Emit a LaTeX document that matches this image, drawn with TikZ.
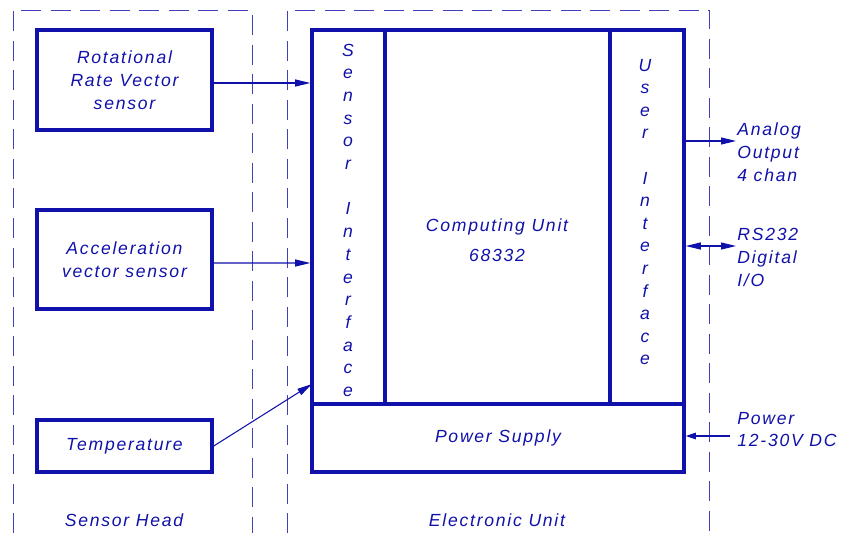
\documentclass[tikz,border=0pt]{standalone}
\usepackage{fontspec}
\setmainfont{Liberation Sans}[LetterSpace=10]
\usetikzlibrary{arrows.meta}
\definecolor{cadblue}{RGB}{16,16,170}
\tikzset{
  txt/.style={text=cadblue, font=\fontsize{10}{13}\selectfont\itshape, align=center, inner sep=0pt},
  box/.style={draw=cadblue, line width=2pt, inner sep=0pt, txt},
  group/.style={draw=cadblue!80, line width=0.45pt, dash pattern=on 4mm off 1.9mm},
  sig/.style={draw=cadblue, line width=0.6pt, -{Triangle[length=3mm,width=1.4mm]}},
  bisig/.style={sig, {Triangle[length=3mm,width=1.4mm]}-{Triangle[length=3mm,width=1.4mm]}},
  supply/.style={sig, -{Triangle[length=2mm,width=1.3mm]}},
}
\begin{document}
\begin{tikzpicture}[x=0.2mm,y=-0.2mm]
			\useasboundingbox (0,0) rectangle (849,533);
			% Sensor head and electronic unit
			\draw[group] (13,533) -- (13,10) -- (252,10) -- (252,533) ;
			\draw[group] (287,533) -- (287,10) -- (709,10) -- (709,533) ;
			\node[txt] (headlbl) at (124,520) {Sensor Head};
			\node[txt] (unitlbl) at (497,520) {Electronic Unit};
			% Sensors
			\node[box, minimum width=35mm, minimum height=20mm] (rot) at (124.5,80) {Rotational\\Rate Vector\\sensor};
			\node[box, minimum width=35mm, minimum height=19.8mm] (acc) at (124.5,259.5) {Acceleration\\vector sensor};
			\node[box, minimum width=35mm, minimum height=10.4mm] (temp) at (124.5,446) {Temperature};
			% Electronic unit blocks
			\node[box, minimum width=14.6mm, minimum height=74.8mm] (si) at (348.5,217) {};
			\node[box, minimum width=45mm, minimum height=74.8mm] (cu) at (497.5,217) {};
			\node[box, minimum width=14.8mm, minimum height=74.8mm] (ui) at (647,217) {};
			\node[box, minimum width=74.4mm, minimum height=13.6mm] (ps) at (498,438) {Power Supply};
			\node[txt] (culbl) at (497,240) {Computing Unit\\[1.5mm]68332};
			\foreach \ch [count=\k from 0] in {S,e,n,s,o,r,,I,n,t,e,r,f,a,c,e}
				\node[txt, anchor=base] (sil\k) at (348,56+22.7*\k) {\ch};
			\foreach \ch [count=\k from 0] in {U,s,e,r,,I,n,t,e,r,f,a,c,e}
				\node[txt, anchor=base] (uil\k) at (645,71+22.6*\k) {\ch};
			% Sensor signals
			\coordinate (tin) at (312,384);
			\draw[sig] (rot.east) ++ (0,3) -- (si.west |- 0,83) ;
			\draw[sig] (acc.east) ++ (0,3.5) -- (si.west |- 0,263) ;
			\draw[sig] (temp.east) -- (tin) ;
			% Outputs and power
			\coordinate (aout) at (736,141);
			\coordinate (dio) at (736,246);
			\coordinate (pin) at (730,436);
			\draw[sig] (ui.east |- aout) -- (aout) ;
			\draw[bisig] (ui.east |- dio) -- (dio) ;
			\draw[supply] (pin) -- (pin -| ps.east) ;
			\node[txt, align=left, anchor=west] (aoutlbl) at (737,152.5) {Analog\\Output\\4 chan};
			\node[txt, align=left, anchor=west] (diolbl) at (737,257.5) {RS232\\Digital\\I/O};
			\node[txt, align=left, anchor=west] (pinlbl) at (737,429.5) {Power\\12-30V DC};
\end{tikzpicture}
\end{document}
